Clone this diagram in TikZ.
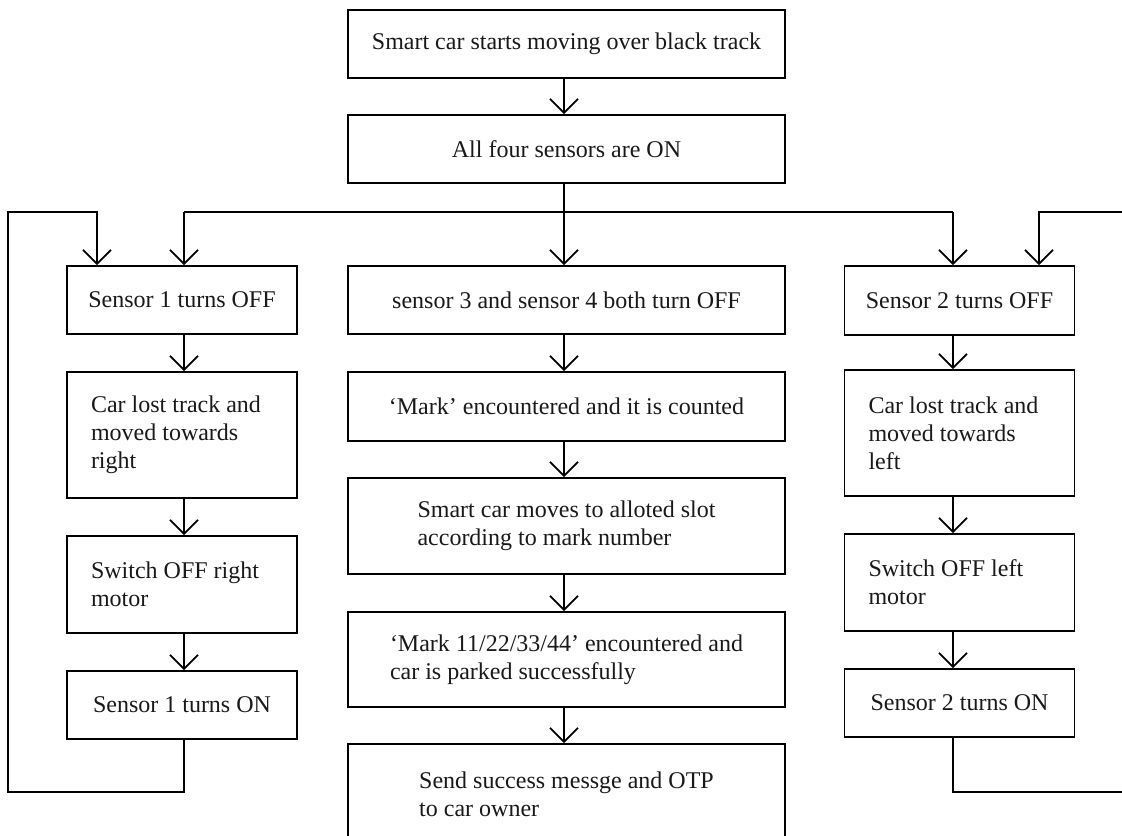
\documentclass[tikz,border=0pt]{standalone}
\usepackage{fontspec}
\setmainfont{Liberation Serif}
\usetikzlibrary{arrows.meta}

\begin{document}
\begin{tikzpicture}[x=0.5pt,y=-0.5pt,
  line width=0.9pt,
  box/.style={draw, rectangle, inner sep=0pt, align=left,
    font=\fontsize{12pt}{14pt}\selectfont, text=black!90},
  sidebox/.style={box, minimum width=115pt},
  sidetext/.style={sidebox, text width=91pt,
    execute at begin node={\spaceskip=\fontdimen2\font\relax}},
  midbox/.style={box, minimum width=218.5pt},
  flow/.style={-{Straight Barb[length=7pt,width=14pt]}}]
  \clip (0,0) rectangle (1122,835);

  % main spine
  \node[midbox, minimum height=34pt] (start) at (566.5,44)
    {Smart car starts moving over black track};
  \node[midbox, minimum height=34pt] (allon) at (566.5,149)
    {All four sensors are ON};

  % column guides
  \coordinate (lcol) at (184,212);
  \coordinate (mcol) at (564,212);
  \coordinate (rcol) at (953,212);

  % left column
  \node[sidebox, minimum height=34pt] (s1off) at (182,300)
    {Sensor 1 turns OFF};
  \node[sidetext, minimum height=63pt] (lostr) at (182,435)
    {Car lost track and\\moved towards\\right};
  \node[sidetext, minimum height=48.5pt] (swr) at (182,584.5)
    {Switch OFF right\\motor};
  \node[sidebox, minimum height=34pt] (s1on) at (182,705)
    {Sensor 1 turns ON};

  % middle column
  \node[midbox, minimum height=34pt] (s34) at (566.5,300)
    {sensor 3 and sensor 4 both turn OFF};
  \node[midbox, minimum height=34.5pt] (mark) at (566.5,406.5)
    {‘Mark’ encountered and it is counted};
  \node[midbox, minimum height=48pt] (moves) at (566.5,526)
    {Smart car moves to alloted slot\\according to mark number};
  \node[midbox, minimum height=47.5pt] (parked) at (566.5,659.5)
    {‘Mark 11/22/33/44’ encountered and\\car is parked successfully};
  \node[midbox, minimum height=50pt] (send) at (566.5,794)
    {Send success messge and OTP\\to car owner};

  % right column
  \node[sidebox, minimum height=34.5pt] (s2off) at (959.5,300.5)
    {Sensor 2 turns OFF};
  \node[sidetext, minimum height=63pt] (lostl) at (959.5,433)
    {Car lost track and\\moved towards\\left};
  \node[sidetext, minimum height=48.5pt] (swl) at (959.5,582.5)
    {Switch OFF left\\motor};
  \node[sidebox, minimum height=34pt] (s2on) at (959.5,703)
    {Sensor 2 turns ON};

  % top connectors
  \draw[flow] (start.south -| mcol) -- (allon.north -| mcol);
  \draw (allon.south -| mcol) -- (mcol);
  \draw (lcol) -- (rcol);
  \draw[flow] (lcol) -- (s1off.north -| lcol);
  \draw[flow] (mcol) -- (s34.north -| mcol);
  \draw[flow] (rcol) -- (s2off.north -| rcol);

  % left column flow
  \draw[flow] (s1off.south -| lcol) -- (lostr.north -| lcol);
  \draw[flow] (lostr.south -| lcol) -- (swr.north -| lcol);
  \draw[flow] (swr.south -| lcol) -- (s1on.north -| lcol);

  % middle column flow
  \draw[flow] (s34.south -| mcol) -- (mark.north -| mcol);
  \draw[flow] (mark.south -| mcol) -- (moves.north -| mcol);
  \draw[flow] (moves.south -| mcol) -- (parked.north -| mcol);
  \draw[flow] (parked.south -| mcol) -- (send.north -| mcol);

  % right column flow
  \draw[flow] (s2off.south -| rcol) -- (lostl.north -| rcol);
  \draw[flow] (lostl.south -| rcol) -- (swl.north -| rcol);
  \draw[flow] (swl.south -| rcol) -- (s2on.north -| rcol);

  % feedback loops
  \coordinate (lret) at (97,212);
  \coordinate (rret) at (1039,212);
  \draw[flow] (s1on.south -| lcol) |- (8,792) |- (lret) -- (s1off.north -| lret);
  \draw[flow] (s2on.south -| rcol) |- (1130,792) |- (rret) -- (s2off.north -| rret);
\end{tikzpicture}
\end{document}
